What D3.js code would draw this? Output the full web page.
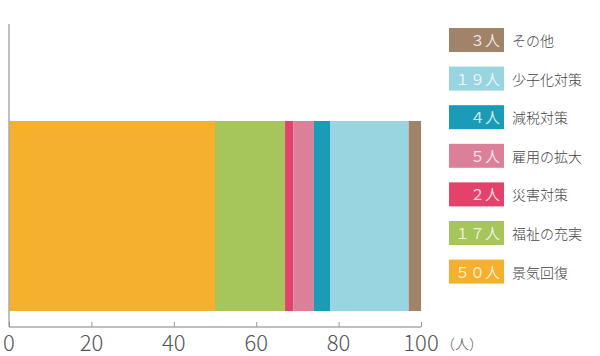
<!DOCTYPE html>
<html>
<head>
<meta charset="utf-8">
<script src="https://cdn.jsdelivr.net/npm/d3@7"></script>
<style>
  body { margin: 0; background: #fff; }
  svg { display: block; font-family: "Noto Sans CJK JP", "Noto Sans", sans-serif; }
</style>
</head>
<body>
<div class="chart"></div>
<script>
// Data (stack order, left to right)
let categories = ["景気回復", "福祉の充実", "災害対策", "雇用の拡大", "減税対策", "少子化対策", "その他"];
let counts = [50, 17, 2, 5, 4, 19, 3];
let countLabels = ["５０人", "１７人", "２人", "５人", "４人", "１９人", "３人"];
let colors = ["#f5b12e", "#a6c55b", "#e5426b", "#dc7f98", "#1a9cb6", "#99d4e1", "#a08369"];
let ticks = [0, 20, 40, 60, 80, 100];

let width = 600;
let height = 356;

let svg = d3
  .select(".chart")
  .append("svg")
  .attr("width", width)
  .attr("height", height);

// Scales
let x = d3.scaleLinear().domain([0, 100]).range([9, 421]);
let y = d3.scaleBand().domain(["all"]).range([121, 311]).padding(0);

// Stack data
let rows = [];
let acc = 0;
counts.forEach(function (v, i) {
  rows.push({ name: categories[i], value: v, x0: acc, x1: acc + v, color: colors[i], label: countLabels[i] });
  acc += v;
});

// Bars
svg
  .append("g")
  .selectAll("rect")
  .data(rows)
  .enter()
  .append("rect")
  .attr("x", (d) => x(d.x0))
  .attr("y", y("all"))
  .attr("width", (d) => x(d.x1) - x(d.x0))
  .attr("height", y.bandwidth())
  .attr("fill", (d) => d.color);

// Y axis line
svg
  .append("line")
  .attr("x1", 9)
  .attr("x2", 9)
  .attr("y1", 24)
  .attr("y2", 327)
  .attr("stroke", "#aaa")
  .attr("stroke-width", 1.5);

// X axis
let xAxis = d3.axisTop(x).tickValues(ticks).tickSize(5).tickFormat("");
let gx = svg.append("g").attr("transform", "translate(0,327)").call(xAxis);
gx.select(".domain").attr("stroke", "#aaa").attr("stroke-width", 1.5).attr("d", `M${x(0)},0H${x(100)}`);
gx.selectAll(".tick line").attr("stroke", "#999");

svg
  .append("g")
  .selectAll("text")
  .data(ticks)
  .enter()
  .append("text")
  .attr("x", (d) => x(d))
  .attr("y", 351)
  .attr("text-anchor", "middle")
  .attr("font-size", 22)
  .attr("font-weight", 200)
  .attr("fill", "#555")
  .text((d) => d);

svg
  .append("text")
  .attr("x", 462)
  .attr("y", 349)
  .attr("text-anchor", "middle")
  .attr("font-size", 14)
  .attr("font-weight", 300)
  .attr("fill", "#555")
  .text("（人）");

// Legend (reverse order, top to bottom)
let legend = svg
  .append("g")
  .selectAll("g")
  .data(rows.slice().reverse())
  .enter()
  .append("g")
  .attr("transform", (d, i) => `translate(449,${28 + i * 38.6})`);

legend
  .append("rect")
  .attr("width", 55)
  .attr("height", 24)
  .attr("fill", (d) => d.color);

legend
  .append("text")
  .attr("x", 51)
  .attr("y", 18)
  .attr("text-anchor", "end")
  .attr("font-size", 15)
  .attr("fill", "#fff")
  .attr("fill-opacity", 0.8)
  .text((d) => d.label);

legend
  .append("text")
  .attr("x", 63)
  .attr("y", 18)
  .attr("font-size", 14)
  .attr("font-weight", 300)
  .attr("fill", "#444")
  .text((d) => d.name);
</script>
</body>
</html>
